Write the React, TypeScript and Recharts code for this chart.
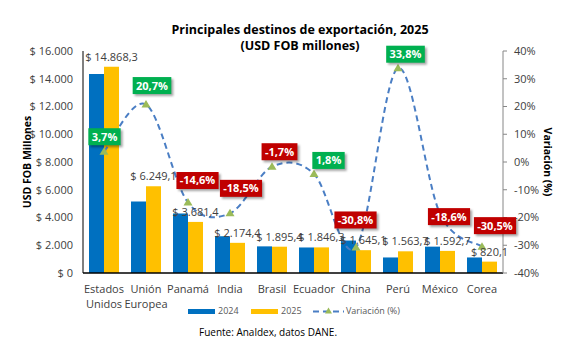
import React from 'react';
import { ComposedChart, Bar, Line, XAxis, YAxis, Legend, LabelList, Label } from 'recharts';

const paises = ['Estados Unidos', 'Unión Europea', 'Panamá', 'India', 'Brasil', 'Ecuador', 'China', 'Perú', 'México', 'Corea'];
const valores2024 = [14338, 5150, 4290, 2650, 1920, 1840, 2340, 1120, 1900, 1120];
const valores2025 = [14868.3, 6249.1, 3681.4, 2174.4, 1895.4, 1846.3, 1645.1, 1563.7, 1592.7, 820.1];
const variacion = [3.7, 20.7, -14.6, -18.5, -1.7, -4.3, -30.8, 33.8, -18.6, -30.5];
const variacionEtiqueta = [3.7, 20.7, -14.6, -18.5, -1.7, 1.8, -30.8, 33.8, -18.6, -30.5];
const ticksUSD = [0, 2000, 4000, 6000, 8000, 10000, 12000, 14000, 16000];
const ticksPct = [-40, -30, -20, -10, 0, 10, 20, 30, 40];

// label box placement relative to each marker (layout only)
const nudge: [number, number][] = [
  [0.5, -15], [6, -19], [9.5, -22], [11, -25], [7.5, -15],
  [14.5, -13.5], [-0.5, -27.5], [7.5, -14], [9, 3], [13, -21],
];

const data = paises.map((p, i) => ({
  pais: p,
  v2024: valores2024[i],
  v2025: valores2025[i],
  variacion: variacion[i],
}));

const FONT = "'Open Sans', 'DejaVu Sans', sans-serif";

function miles(s: string) {
  return s.replace(/\B(?=(\d{3})+(?!\d))/g, '.');
}
function fmtMoney(v: number, dec = 0) {
  const [ent, fr] = v.toFixed(dec).split('.');
  return '$ ' + miles(ent) + (fr ? ',' + fr : '');
}
function fmtPct(v: number) {
  return v.toFixed(1).replace('.', ',') + '%';
}
function boldWidth(t: string, fs: number) {
  let w = 0;
  for (const c of t) {
    if (/\d/.test(c)) w += 0.572;
    else if (c === ',') w += 0.29;
    else if (c === '%') w += 0.87;
    else if (c === '-') w += 0.32;
    else w += 0.55;
  }
  return w * fs;
}

function excelSmooth(context: any) {
  let pts: [number, number][] = [];
  return {
    areaStart() {},
    areaEnd() {},
    lineStart() { pts = []; },
    lineEnd() {
      const n = pts.length;
      if (!n) return;
      context.moveTo(pts[0][0], pts[0][1]);
      for (let i = 0; i < n - 1; i++) {
        const p0 = pts[i - 1] || pts[i];
        const p1 = pts[i];
        const p2 = pts[i + 1];
        const p3 = pts[i + 2] || p2;
        context.bezierCurveTo(
          p1[0] + (p2[0] - p0[0]) / 6, p1[1] + (p2[1] - p0[1]) / 6,
          p2[0] - (p3[0] - p1[0]) / 6, p2[1] - (p3[1] - p1[1]) / 6,
          p2[0], p2[1]
        );
      }
    },
    point(x: number, y: number) { pts.push([+x, +y]); },
  };
}

const CatTick = (props: any) => {
  const { x, y, payload } = props;
  const words = String(payload.value).split(' ');
  return (
    <text x={x} y={y + 20} textAnchor="middle" fill="#404040" fontSize={11} fontFamily={FONT}>
      {words.map((w, i) => (
        <tspan key={i} x={x} dy={i === 0 ? 0 : 15}>{w}</tspan>
      ))}
    </text>
  );
};

const Tri = (p: any) => {
  const { cx, cy, index } = p;
  if (cx == null || cy == null) return <g key={`t${index}`} />;
  return (
    <path
      key={`t${index}`}
      d={`M${cx},${cy - 4.5} L${cx + 4.5},${cy + 3} L${cx - 4.5},${cy + 3} Z`}
      fill="#9BBB59"
    />
  );
};

const VarLabel = (p: any) => {
  const { x, y, index } = p;
  if (x == null || y == null) return null;
  const v = variacionEtiqueta[index];
  const txt = fmtPct(v);
  const w = boldWidth(txt, 11) + 7;
  const h = 17;
  const [dx, dy] = nudge[index] || [0, -18];
  const cx = x + dx;
  const cy = y + dy;
  const fid = `sh${index}`;
  return (
    <g>
      <defs>
        <filter id={fid} x="-30%" y="-40%" width="160%" height="180%">
          <feGaussianBlur stdDeviation="1.2" />
        </filter>
      </defs>
      <rect x={cx - w / 2 + 2} y={cy - h / 2 + 2} width={w} height={h} fill="rgba(0,0,0,0.35)" filter={`url(#${fid})`} />
      <rect x={cx - w / 2} y={cy - h / 2} width={w} height={h} fill={v >= 0 ? '#00B050' : '#C00000'} />
      <text x={cx} y={cy} dy="0.36em" textAnchor="middle" fill="#ffffff" fontWeight="bold" fontSize={11} fontFamily={FONT}>
        {txt}
      </text>
    </g>
  );
};

const BarValueLabel = (p: any) => {
  const { x, y, width, value } = p;
  if (x == null) return null;
  return (
    <text x={x + width / 2} y={y - 6} textAnchor="middle" fill="#404040" fontSize={11} fontFamily={FONT}>
      {fmtMoney(Number(value), 1)}
    </text>
  );
};

const LegendContent = () => (
  <div style={{ position: 'relative', width: 561, height: 34, fontFamily: FONT }}>
    <div style={{ position: 'absolute', left: 188, top: 4.5, width: 27, height: 5.5, background: '#0070C0' }} />
    <div style={{ position: 'absolute', left: 218, top: 0, lineHeight: '14px', fontSize: 9, color: '#595959' }}>2024</div>
    <div style={{ position: 'absolute', left: 251, top: 4.5, width: 27, height: 5.5, background: '#FFC000' }} />
    <div style={{ position: 'absolute', left: 281, top: 0, lineHeight: '14px', fontSize: 9, color: '#595959' }}>2025</div>
    <svg style={{ position: 'absolute', left: 313, top: 0 }} width={31} height={14}>
      <line x1={0} y1={7.5} x2={31} y2={7.5} stroke="#4A7EC4" strokeWidth={2} strokeDasharray="6 4" />
      <path d="M15.5,3.5 L19,9.5 L12,9.5 Z" fill="#9BBB59" />
    </svg>
    <div style={{ position: 'absolute', left: 346, top: 0, lineHeight: '14px', fontSize: 9, color: '#595959' }}>Variación (%)</div>
    <div style={{ position: 'absolute', left: 0, width: 536, top: 21, lineHeight: '14px', fontSize: 10, color: '#000', textAlign: 'center' }}>
      Fuente: Analdex, datos DANE.
    </div>
  </div>
);

export default function App() {
  return (
    <div style={{ position: 'absolute', left: 0, top: 0, width: 561, height: 340, background: '#fff', fontFamily: FONT }}>
      <div
        style={{
          position: 'absolute', left: 0, top: 22, width: 600, textAlign: 'center',
          fontWeight: 'bold', fontSize: 12.5, lineHeight: '16px', color: '#000', zIndex: 2, pointerEvents: 'none',
        }}
      >
        <div>Principales destinos de exportación, 2025</div>
        <div>(USD FOB millones)</div>
      </div>
      <ComposedChart
        width={561}
        height={340}
        data={data}
        margin={{ top: 51, right: 0, left: 0, bottom: 2 }}
        barCategoryGap={6}
        barGap={0}
      >
        <XAxis
          dataKey="pais"
          xAxisId={0}
          height={31}
          tickLine={false}
          tickSize={0}
          tickMargin={0}
          stroke="#000"
          strokeWidth={1.4}
          tick={<CatTick />}
          interval={0}
        />
        <YAxis
          yAxisId="left"
          orientation="left"
          width={83}
          domain={[0, 16000]}
          ticks={ticksUSD}
          tickFormatter={(v: number) => fmtMoney(v)}
          tickLine={false}
          tickSize={0}
          tickMargin={10}
          stroke="#000"
          tick={{ fill: '#404040', fontSize: 11, fontFamily: FONT }}
          interval={0}
        >
          <Label
            content={(p: any) => {
              const vb = p.viewBox || { x: 0, y: 51, width: 83, height: 222 };
              const cx = vb.x + 27;
              const cy = vb.y + vb.height / 2;
              return (
                <text x={cx} y={cy} transform={`rotate(-90 ${cx} ${cy})`} textAnchor="middle" dy="0.36em"
                  fontWeight="bold" fontSize={10.5} fill="#000" fontFamily={FONT}>
                  USD FOB Millones
                </text>
              );
            }}
          />
        </YAxis>
        <YAxis
          yAxisId="right"
          orientation="right"
          width={58}
          domain={[-40, 40]}
          ticks={ticksPct}
          tickFormatter={(v: number) => `${v}%`}
          tickSize={4}
          tickMargin={7}
          stroke="#868686"
          tick={{ fill: '#404040', fontSize: 11, fontFamily: FONT }}
          interval={0}
        >
          <Label
            content={(p: any) => {
              const vb = p.viewBox || { x: 503, y: 51, width: 58, height: 222 };
              const cx = vb.x + 45;
              const cy = vb.y + vb.height / 2;
              return (
                <text x={cx} y={cy} transform={`rotate(90 ${cx} ${cy})`} textAnchor="middle" dy="0.36em"
                  fontWeight="bold" fontSize={10.5} fill="#000" fontFamily={FONT}>
                  Variación (%)
                </text>
              );
            }}
          />
        </YAxis>
        <Legend verticalAlign="bottom" align="center" height={34} content={<LegendContent />} />
        <Bar dataKey="v2024" name="2024" yAxisId="left" fill="#0070C0" isAnimationActive={false} />
        <Bar dataKey="v2025" name="2025" yAxisId="left" fill="#FFC000" isAnimationActive={false}>
          <LabelList dataKey="v2025" content={<BarValueLabel />} />
        </Bar>
        <Line
          dataKey="variacion"
          name="Variación (%)"
          yAxisId="right"
          type={excelSmooth as any}
          stroke="#4A7EC4"
          strokeWidth={2}
          strokeDasharray="6 4"
          dot={Tri}
          activeDot={false}
          isAnimationActive={false}
        >
          <LabelList dataKey="variacion" content={<VarLabel />} />
        </Line>
      </ComposedChart>
    </div>
  );
}
